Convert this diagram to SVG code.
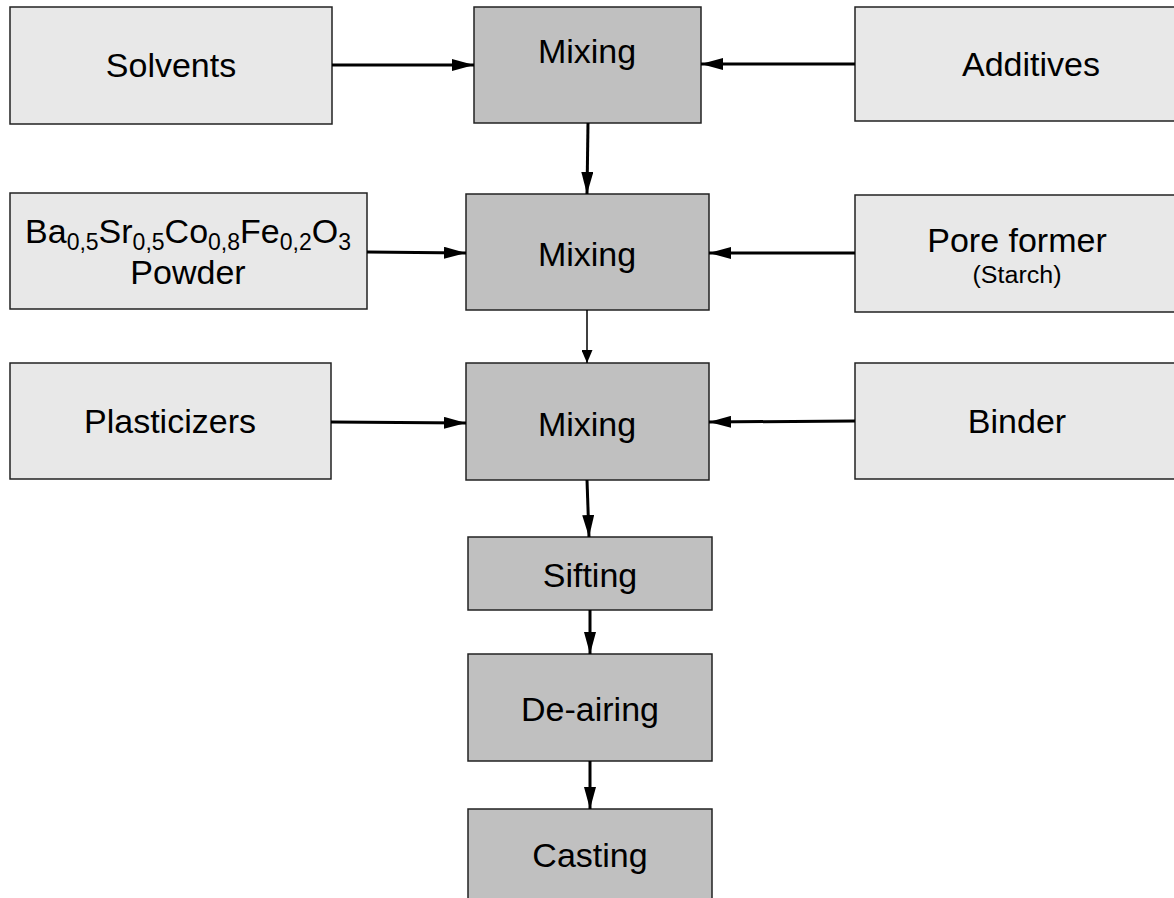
<svg xmlns="http://www.w3.org/2000/svg" width="1174" height="898" viewBox="0 0 1174 898">
  <style>
    .in { fill: #e8e8e8; stroke: #222; stroke-width: 1.5; }
    .step { fill: #c0c0c0; stroke: #222; stroke-width: 1.5; }
    text { font-family: "Liberation Sans", Arial, sans-serif; font-size: 34px; fill: #000; text-anchor: middle; }
    .small { font-size: 23px; }
    .sub { font-size: 23px; }
    .conn { stroke: #000; stroke-width: 3; fill: none; marker-end: url(#head); }
    .thin { stroke: #000; stroke-width: 1.5; fill: none; marker-end: url(#headThin); }
  </style>
  <defs>
    <marker id="head" markerUnits="userSpaceOnUse" markerWidth="22" markerHeight="12" refX="22" refY="6" orient="auto">
      <path d="M0,0 L22,6 L0,12 Z" fill="#000"/>
    </marker>
    <marker id="headThin" markerUnits="userSpaceOnUse" markerWidth="13" markerHeight="11" refX="13" refY="5.5" orient="auto">
      <path d="M0,0 L13,5.5 L0,11 Z" fill="#000"/>
    </marker>
  </defs>
  <rect width="1174" height="898" fill="#fff"/>

  <!-- input materials -->
  <g id="solvents">
    <rect class="in" x="10" y="7" width="322" height="117"/>
    <text x="171" y="77">Solvents</text>
  </g>
  <g id="additives">
    <rect class="in" x="855" y="7" width="350" height="114"/>
    <text x="1031" y="76">Additives</text>
  </g>
  <g id="powder">
    <rect class="in" x="10" y="193" width="357" height="116"/>
    <text x="188" y="243">Ba<tspan class="sub" dy="7">0,5</tspan><tspan dy="-7">Sr</tspan><tspan class="sub" dy="7">0,5</tspan><tspan dy="-7">Co</tspan><tspan class="sub" dy="7">0,8</tspan><tspan dy="-7">Fe</tspan><tspan class="sub" dy="7">0,2</tspan><tspan dy="-7">O</tspan><tspan class="sub" dy="7">3</tspan></text>
    <text x="188" y="284">Powder</text>
  </g>
  <g id="pore-former">
    <rect class="in" x="855" y="195" width="330" height="117"/>
    <text x="1017" y="252">Pore former</text>
    <text class="small" x="1017" y="283" textLength="89" lengthAdjust="spacingAndGlyphs">(Starch)</text>
  </g>
  <g id="plasticizers">
    <rect class="in" x="10" y="363" width="321" height="116"/>
    <text x="170" y="433">Plasticizers</text>
  </g>
  <g id="binder">
    <rect class="in" x="855" y="363" width="330" height="116"/>
    <text x="1017" y="433">Binder</text>
  </g>

  <!-- process steps -->
  <g id="mixing-1">
    <rect class="step" x="474" y="7" width="227" height="116"/>
    <text x="587" y="63">Mixing</text>
  </g>
  <g id="mixing-2">
    <rect class="step" x="466" y="194" width="243" height="116"/>
    <text x="587" y="266">Mixing</text>
  </g>
  <g id="mixing-3">
    <rect class="step" x="466" y="363" width="243" height="117"/>
    <text x="587" y="436">Mixing</text>
  </g>
  <g id="sifting">
    <rect class="step" x="468" y="537" width="244" height="73"/>
    <text x="590" y="587">Sifting</text>
  </g>
  <g id="de-airing">
    <rect class="step" x="468" y="654" width="244" height="107"/>
    <text x="590" y="721">De-airing</text>
  </g>
  <g id="casting">
    <rect class="step" x="468" y="809" width="244" height="110"/>
    <text x="590" y="867">Casting</text>
  </g>

  <!-- connectors -->
  <g id="connectors">
    <line class="conn" x1="332" y1="65" x2="474" y2="65"/>
    <line class="conn" x1="855" y1="64" x2="701" y2="64"/>
    <line class="conn" x1="588" y1="123" x2="587" y2="194"/>
    <line class="conn" x1="367" y1="252" x2="466" y2="253"/>
    <line class="conn" x1="855" y1="253" x2="709" y2="253"/>
    <line class="thin" x1="587" y1="310" x2="587" y2="363"/>
    <line class="conn" x1="331" y1="422" x2="466" y2="423"/>
    <line class="conn" x1="855" y1="421" x2="709" y2="422"/>
    <line class="conn" x1="587" y1="480" x2="589" y2="537"/>
    <line class="conn" x1="590" y1="610" x2="590" y2="654"/>
    <line class="conn" x1="590" y1="761" x2="590" y2="809"/>
  </g>
</svg>
